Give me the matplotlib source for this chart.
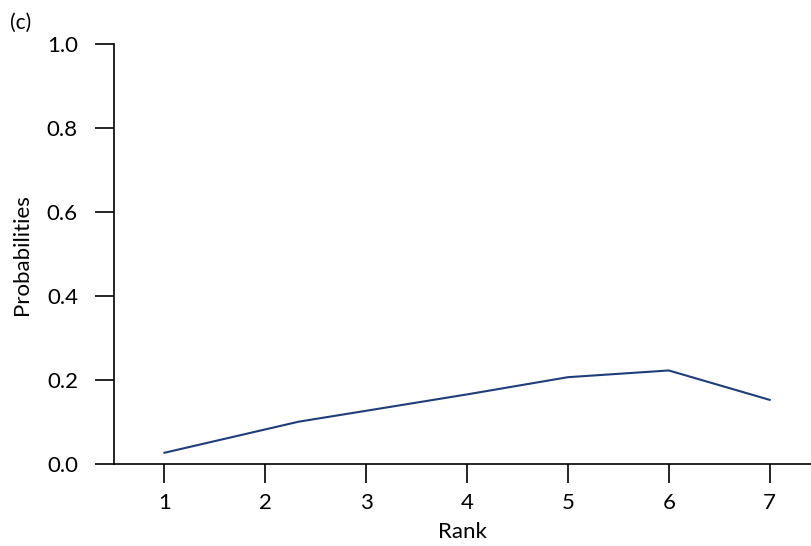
import matplotlib.pyplot as plt

plt.rcParams["font.family"] = ["Lato", "DejaVu Sans"]

# rank positions and probabilities
rank = [1, 2.33, 3, 4, 5, 6, 7]
probability = [0.027, 0.101, 0.127, 0.166, 0.207, 0.223, 0.153]
rank_ticks = [1, 2, 3, 4, 5, 6, 7]
prob_ticks = [0.0, 0.2, 0.4, 0.6, 0.8, 1.0]

fig = plt.figure(figsize=(8.11, 5.46), dpi=100)
ax = fig.add_axes([0.1406, 0.150, 0.8594, 0.769])

ax.plot(rank, probability, color="#1f3d7a", linewidth=1.5)

ax.set_xlim(0.5, 7.41)
ax.set_ylim(0.0, 1.0)
ax.set_xticks(rank_ticks)
ax.set_yticks(prob_ticks)
ax.set_yticklabels([f"{v:.1f}" for v in prob_ticks])
ax.tick_params(axis="both", direction="out", length=14, width=1.2,
               labelsize=16, color="black")
ax.tick_params(axis="y", pad=12)
ax.tick_params(axis="x", pad=7)

for side in ["top", "right"]:
    ax.spines[side].set_visible(False)
for side in ["left", "bottom"]:
    ax.spines[side].set_linewidth(1.2)

ax.set_xlabel("Rank", fontsize=16, labelpad=6)
ax.set_ylabel("Probabilities", fontsize=16, labelpad=11)
fig.text(0.012, 0.958, "(c)", fontsize=15, ha="left", va="center")

fig.savefig("out.png", dpi=100)
